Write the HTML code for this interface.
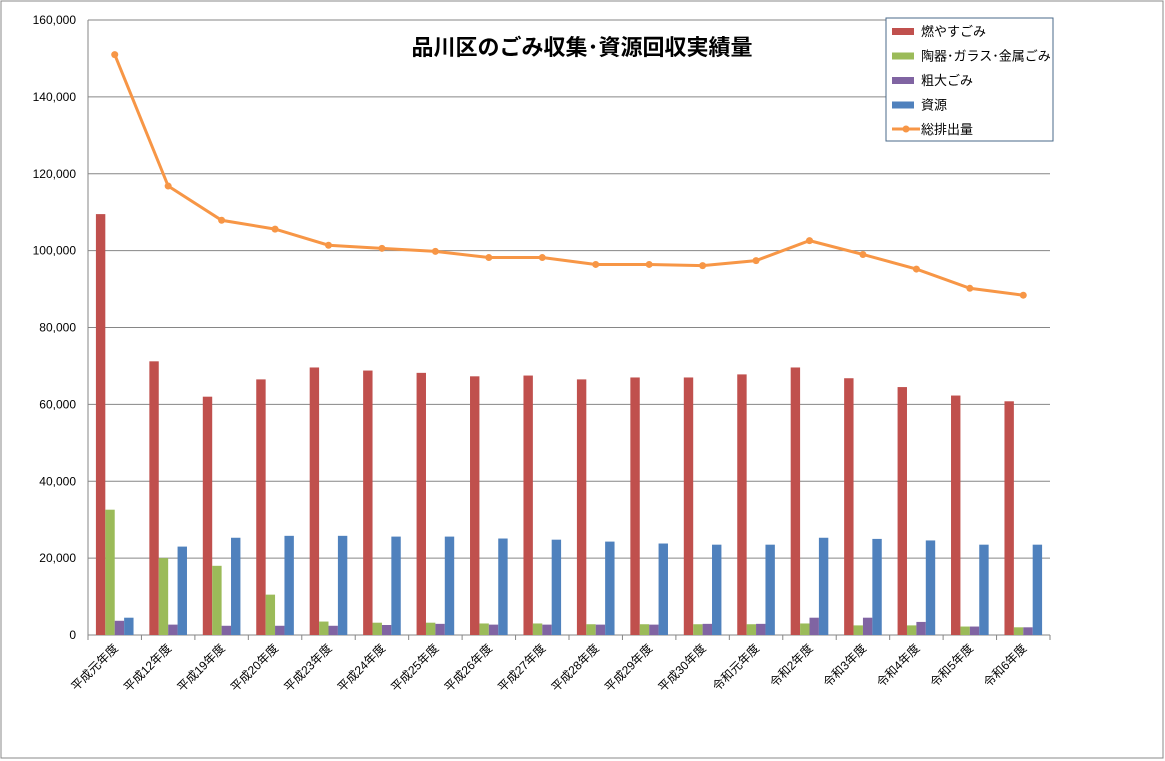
<!DOCTYPE html>
<html><head><meta charset="utf-8"><style>
body{margin:0;background:#fff;}
svg{display:block;font-family:"Liberation Sans","Noto Sans CJK JP",sans-serif;}
</style></head><body>
<svg id="c" width="1165" height="761">
<rect x="1" y="1" width="1162" height="757" fill="#fff" stroke="#888"/>
<g id="grid"></g><g id="bars"></g><g id="line"></g><g id="axes"></g>
<text x="582" y="55" text-anchor="middle" font-size="22" font-weight="bold" font-family="'Noto Sans CJK JP',sans-serif">品川区のごみ収集･資源回収実績量</text>
<g>
<rect x="886" y="18" width="167" height="123" fill="#fff" stroke="#4a6a8a"/>
<g id="legend"></g></g>
</svg>
<script>
const categories=["平成元年度","平成12年度","平成19年度","平成20年度","平成23年度","平成24年度","平成25年度","平成26年度","平成27年度","平成28年度","平成29年度","平成30年度","令和元年度","令和2年度","令和3年度","令和4年度","令和5年度","令和6年度"];
const burnable=[109500,71200,62000,66500,69600,68800,68200,67300,67500,66500,67000,67000,67800,69600,66800,64500,62300,60800];
const ceramicGlassMetal=[32600,20000,18000,10500,3500,3200,3200,3000,3000,2800,2800,2800,2800,3000,2500,2500,2200,2000];
const bulky=[3700,2700,2400,2400,2400,2600,2900,2700,2700,2700,2700,2900,2900,4500,4500,3400,2200,2000];
const resources=[4500,23000,25300,25800,25800,25600,25600,25100,24800,24300,23800,23500,23500,25300,25000,24600,23500,23500];
const total=[151000,116800,107900,105600,101400,100600,99800,98200,98200,96400,96400,96100,97400,102600,99000,95200,90200,88400];
const yTicks=[0,20000,40000,60000,80000,100000,120000,140000,160000];
const seriesNames=["燃やすごみ","陶器･ガラス･金属ごみ","粗大ごみ","資源","総排出量"];
const colors=["#c0504d","#9bbb59","#8064a2","#4f81bd","#f79646"];
const X0=88,X1=1050,Y0=635,Y1=20,YMAX=160000;
const bw=(X1-X0)/categories.length;
const y=v=>Y0-(v/YMAX)*(Y0-Y1);
const xc=i=>X0+bw*(i+0.5);
const NS="http://www.w3.org/2000/svg";
function mk(p,t,a){const e=document.createElementNS(NS,t);for(const k in a)e.setAttribute(k,a[k]);document.getElementById(p).appendChild(e);return e;}
yTicks.forEach(v=>{
 const l=mk('grid','line',{x1:X0,x2:X1,y1:y(v),y2:y(v),stroke:'#868686','stroke-width':1});
 
 
 const t=mk('axes','text',{x:X0-12,y:y(v)+4,'text-anchor':'end','font-size':12,fill:'#000'});
 t.textContent=v.toLocaleString('en-US');
 
 
});
mk('axes','line',{x1:X0,x2:X0,y1:Y1,y2:Y0,stroke:'#868686'});
for(let i=0;i<=categories.length;i++){mk('axes','line',{x1:X0+bw*i,x2:X0+bw*i,y1:Y0,y2:Y0+5,stroke:'#868686'});}
categories.forEach((c,i)=>{
 const cx=xc(i)+4,cy=Y0+14;
 const t=mk('axes','text',{x:cx,y:cy,'text-anchor':'end','font-size':12,transform:`rotate(-45 ${cx} ${cy})`});
 t.textContent=c;
 
 
});
const sets=[burnable,ceramicGlassMetal,bulky,resources];
const barW=bw*0.176,gap=(bw-4*barW)/2;
sets.forEach((s,k)=>s.forEach((v,i)=>{
 const r=mk('bars','rect',{x:X0+bw*i+gap+k*barW,y:y(v),width:barW,height:Y0-y(v),fill:colors[k]});
 
 
}));
const pl=mk('line','polyline',{points:total.map((v,i)=>xc(i)+','+y(v)).join(' '),fill:'none',stroke:colors[4],'stroke-width':3});


total.forEach((v,i)=>{
 const c=mk('line','circle',{cx:xc(i),cy:y(v),r:3.5,fill:colors[4]});
 
 
});
seriesNames.forEach((n,k)=>{
 const ly=31+k*24.5;
 if(k<4){mk('legend','rect',{x:892,y:ly-3,width:22,height:7,fill:colors[k]});}
 else{mk('legend','line',{x1:892,x2:920,y1:ly,y2:ly,stroke:colors[4],'stroke-width':3});mk('legend','circle',{cx:906,cy:ly,r:3.5,fill:colors[4]});}
 const t=mk('legend','text',{x:921,y:ly+5,'font-size':13});
 t.textContent=n;
 
 
});
</script>
</body></html>
